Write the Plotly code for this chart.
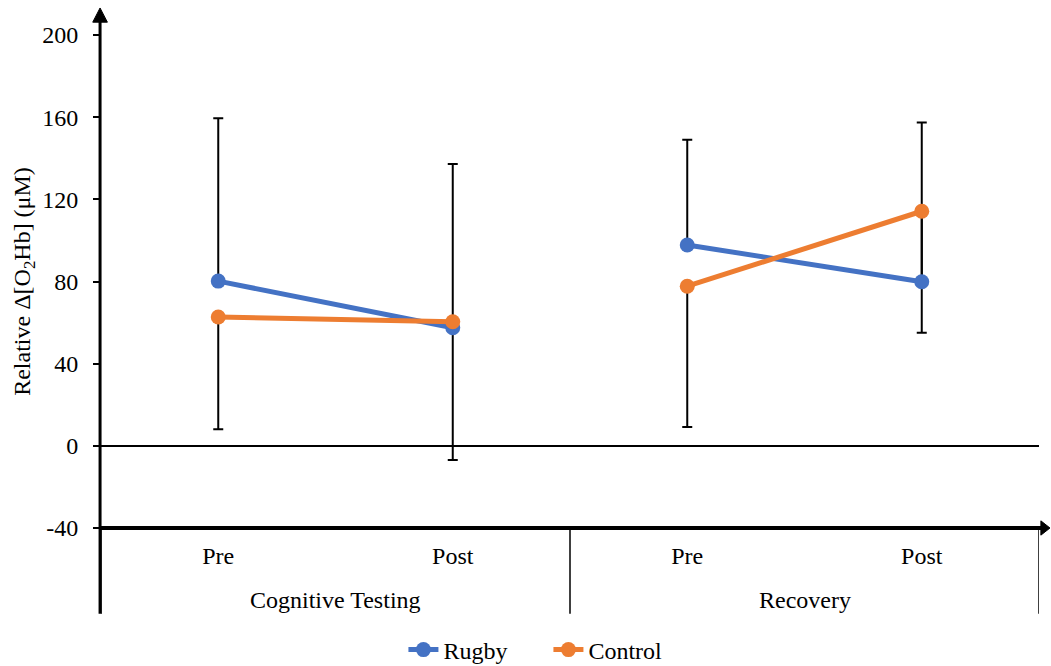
import plotly.graph_objects as go

# Session phases and time points
phases = ["Cognitive Testing", "Cognitive Testing", "Recovery", "Recovery"]
timepoints = ["Pre", "Post", "Pre", "Post"]
phase_names = ["Cognitive Testing", "Recovery"]

# Mean relative change in oxyhaemoglobin (µM)
rugby = [80.2, 57.5, 97.8, 79.9]
control = [62.7, 60.4, 77.7, 114.2]

# Error bars: Rugby shown upward, Control shown downward
rugby_err_up = [79.3, 79.7, 51.2, 77.5]
control_err_down = [54.6, 67.3, 68.5, 59.1]

y_ticks = [-40, 0, 40, 80, 120, 160, 200]

BLUE = "#4472C4"
ORANGE = "#ED7D31"
FONT = "Liberation Serif, Times New Roman, serif"
FS = 24

xpos = list(range(len(timepoints)))
zeros = [0] * len(xpos)

fig = go.Figure()

# Error bars first so the lines and markers sit on top of them
fig.add_trace(go.Scatter(
    x=xpos, y=rugby, mode="markers", marker=dict(opacity=0, size=1),
    error_y=dict(type="data", symmetric=False, array=rugby_err_up,
                 arrayminus=zeros, color="black", thickness=2, width=5),
    showlegend=False, hoverinfo="skip"))
fig.add_trace(go.Scatter(
    x=xpos, y=control, mode="markers", marker=dict(opacity=0, size=1),
    error_y=dict(type="data", symmetric=False, array=zeros,
                 arrayminus=control_err_down, color="black", thickness=2, width=5),
    showlegend=False, hoverinfo="skip"))

# One line segment per phase, so the phases are not joined
for name, values, color in [("Rugby", rugby, BLUE), ("Control", control, ORANGE)]:
    for k, ph in enumerate(phase_names):
        idx = [i for i, p in enumerate(phases) if p == ph]
        fig.add_trace(go.Scatter(
            x=[xpos[i] for i in idx], y=[values[i] for i in idx],
            mode="lines+markers", name=name, legendgroup=name, showlegend=(k == 0),
            line=dict(color=color, width=5), marker=dict(color=color, size=15)))

# Phase labels beneath the time-point labels
for ph in phase_names:
    idx = [i for i, p in enumerate(phases) if p == ph]
    fig.add_annotation(x=sum(xpos[i] for i in idx) / len(idx), xref="x",
                       y=-0.146, yref="paper", yanchor="middle", text=ph, showarrow=False,
                       font=dict(family=FONT, size=FS, color="black"))

# Vertical dividers between phases on the category axis
for xd in [-0.5, 1.5, 3.5]:
    fig.add_shape(type="line", xref="x", yref="paper", x0=xd, x1=xd,
                  y0=0, y1=-0.174, line=dict(color="black", width=1.5))

# Axis lines with arrowheads
fig.add_shape(type="line", xref="paper", yref="paper",
              x0=-0.001, x1=1.004, y0=0, y1=0, line=dict(color="black", width=4))
fig.add_shape(type="path", xref="paper", yref="paper",
              path="M 1.002 -0.0145 L 1.0117 0 L 1.002 0.0145 Z",
              fillcolor="black", line=dict(color="black", width=1))
fig.add_shape(type="line", xref="paper", yref="paper",
              x0=-0.001, x1=-0.001, y0=-0.174, y1=1.03, line=dict(color="black", width=3))
fig.add_shape(type="path", xref="paper", yref="paper",
              path="M -0.0088 1.026 L -0.001 1.0548 L 0.0068 1.026 Z",
              fillcolor="black", line=dict(color="black", width=1))

fig.update_layout(
    width=1051, height=666,
    margin=dict(l=101, r=12, t=35, b=138, autoexpand=False),
    paper_bgcolor="white", plot_bgcolor="white",
    font=dict(family=FONT, size=FS, color="black"),
    showlegend=True,
    legend=dict(orientation="h", x=0.477, xanchor="center",
                yref="container", y=0.024, yanchor="middle",
                entrywidth=100, entrywidthmode="pixels",
                font=dict(family=FONT, size=FS), tracegroupgap=0),
    xaxis=dict(range=[-0.5, 3.5], tickvals=xpos, ticktext=timepoints,
               showgrid=False, zeroline=False, showline=False, ticks="",
               ticklabelstandoff=11, tickfont=dict(family=FONT, size=FS)),
    yaxis=dict(range=[-40, 200], tickvals=y_ticks, ticktext=[str(v) for v in y_ticks],
               showgrid=False, zeroline=True, zerolinecolor="black", zerolinewidth=1.5,
               showline=False, ticks="outside", ticklen=7, tickwidth=1.5, tickcolor="black",
               ticklabelstandoff=10, tickfont=dict(family=FONT, size=FS),
               title=dict(text="Relative Δ[O<sub>2</sub>Hb] (μM)",
                          font=dict(family=FONT, size=FS), standoff=4)),
)

fig.write_html("out.html")
